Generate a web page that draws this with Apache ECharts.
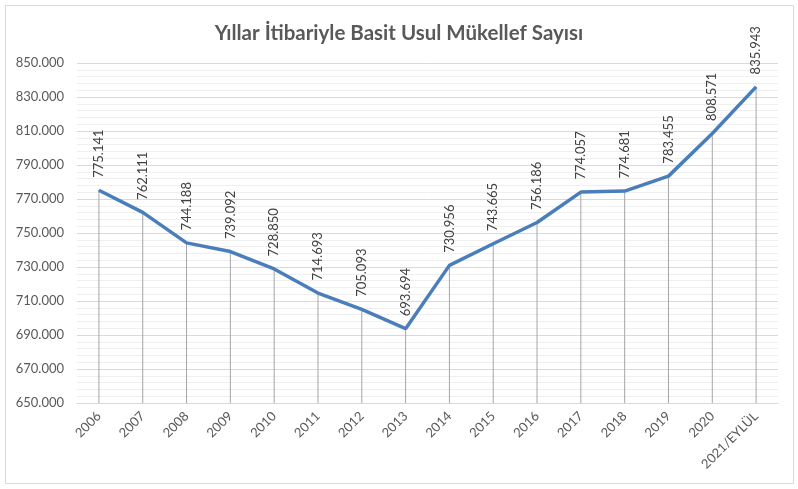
<!DOCTYPE html>
<html><head><meta charset="utf-8">
<script src="https://cdn.jsdelivr.net/npm/echarts@6/dist/echarts.min.js"></script>
<style>html,body{margin:0;padding:0;background:#fff}#c{width:798px;height:489px}</style>
</head><body><div id="c"></div>
<script>
const categories = ['2006','2007','2008','2009','2010','2011','2012','2013','2014','2015','2016','2017','2018','2019','2020','2021/EYLÜL'];
const values = [775141,762111,744188,739092,728850,714693,705093,693694,730956,743665,756186,774057,774681,783455,808571,835943];
const yMin = 650000, yMax = 850000, yStep = 20000;
const titleText = 'Yıllar İtibariyle Basit Usul Mükellef Sayısı';

function fmt(v){ return String(v).replace(/\B(?=(\d{3})+(?!\d))/g,'.'); }
const FONT = 'Lato, "Open Sans", sans-serif';
const chart = echarts.init(document.getElementById('c'), null, {renderer:'canvas'});
chart.setOption({
  animation:false,
  backgroundColor:'#fff',
  title:{text:titleText,left:'center',top:18,textStyle:{fontFamily:FONT,fontSize:20.5,fontWeight:'bold',color:'#595959'}},
  graphic:[{type:'rect',shape:{x:5.5,y:5.5,width:788,height:478},style:{fill:'none',stroke:'#d9d9d9',lineWidth:1},silent:true}],
  grid:{left:77,right:20,top:63,bottom:86},
  xAxis:{type:'category',data:categories,boundaryGap:true,
    axisLine:{show:true,lineStyle:{color:'#d9d9d9'}},axisTick:{show:false},
    axisLabel:{rotate:45,interval:0,fontFamily:FONT,fontSize:13,color:'#595959',margin:11}},
  yAxis:{type:'value',min:yMin,max:yMax,interval:yStep,
    axisLine:{show:false},axisTick:{show:false},
    axisLabel:{formatter:v=>fmt(v),fontFamily:FONT,fontSize:13,color:'#595959',margin:13},
    splitLine:{lineStyle:{color:'#d9d9d9'}},
    minorTick:{show:false,splitNumber:5},
    minorSplitLine:{show:true,lineStyle:{color:'#efefef'}}},
  series:[
    {type:'bar',data:values,barWidth:1,itemStyle:{color:'#a6a6a6'},silent:true,z:1},
    {type:'line',data:values,symbol:'circle',symbolSize:1,showSymbol:true,itemStyle:{color:'#4a7ebb'},
     lineStyle:{color:'#4a7ebb',width:3.5},z:3,
     label:{show:true,position:'top',distance:12,rotate:90,align:'left',verticalAlign:'middle',
       formatter:p=>fmt(p.value),fontFamily:FONT,fontSize:13,color:'#404040'}}
  ]
});
</script></body></html>
